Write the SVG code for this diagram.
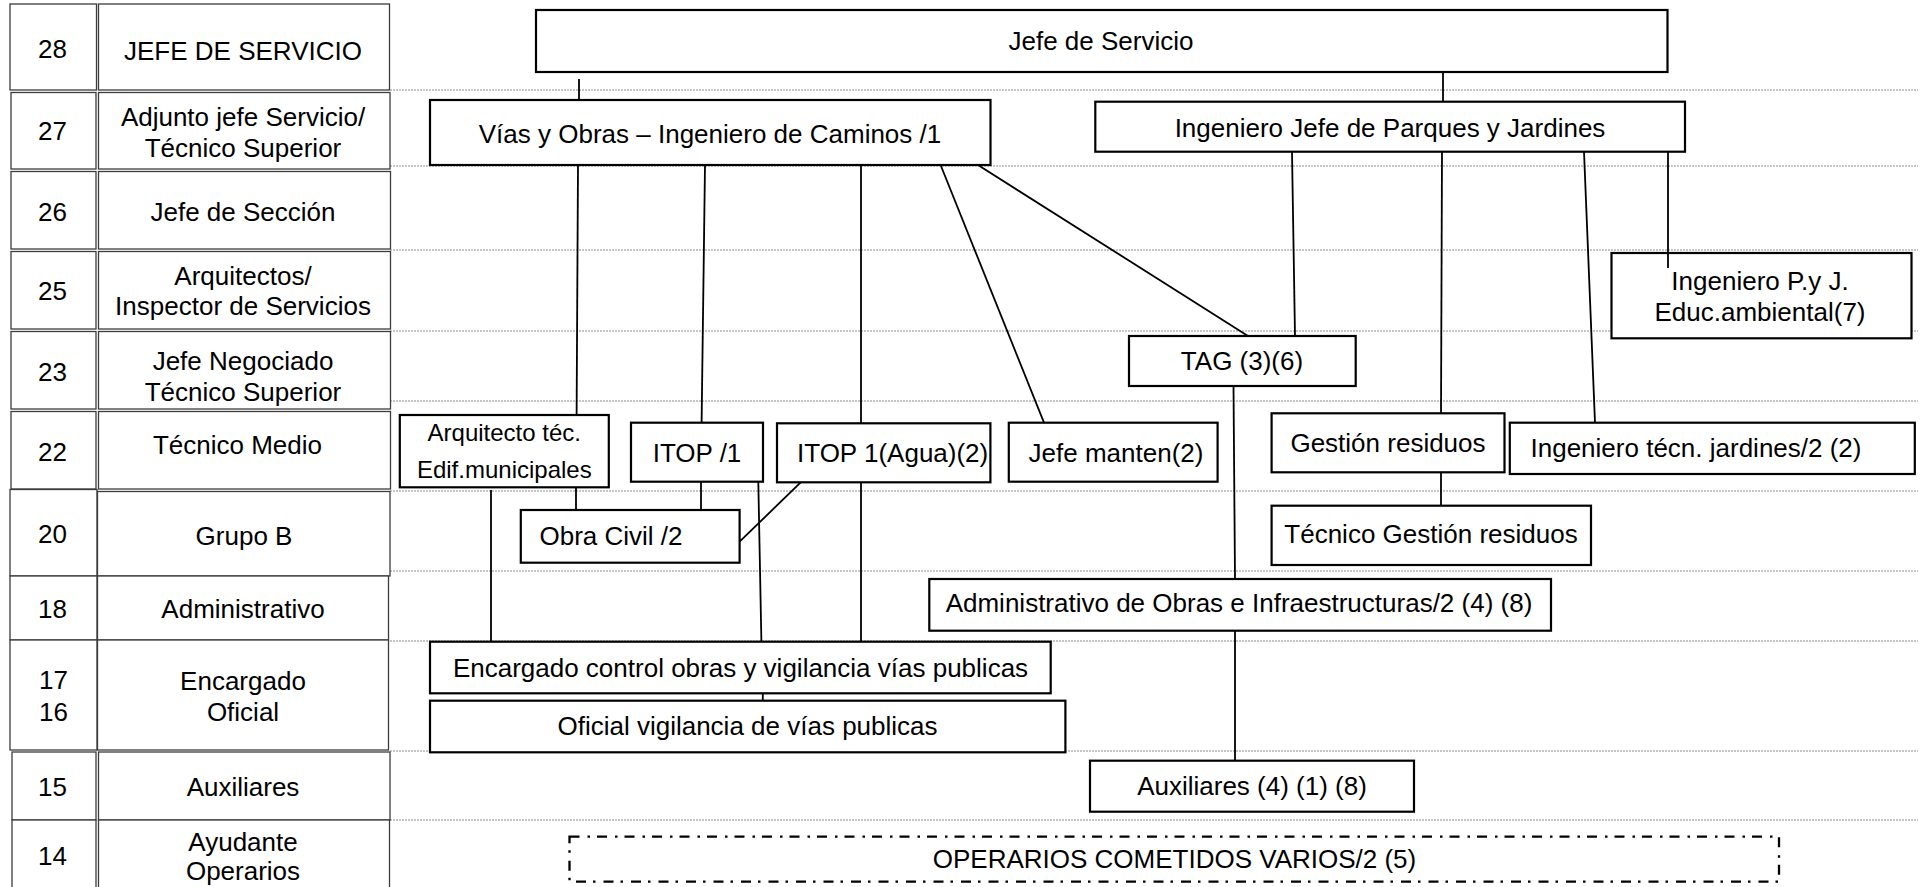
<svg xmlns="http://www.w3.org/2000/svg" width="1922" height="887" viewBox="0 0 1922 887">
<style>
  text { font-family: "Liberation Sans", Arial, sans-serif; font-size: 26px; fill: #000; }
  .c { text-anchor: middle; }
  .cell { fill: #fff; stroke: #3c3c3c; stroke-width: 1.3; }
  .grid line { stroke: #8c8c8c; stroke-width: 1; stroke-dasharray: 2 1; }
  .node rect { fill: #fff; stroke: #000; stroke-width: 2.2; }
  .conn line { stroke: #000; stroke-width: 1.8; }
  .dashdot { fill: none; stroke: #000; stroke-width: 2.3; stroke-dasharray: 10 8 2.5 7; }
</style>
<rect width="1922" height="887" fill="#fff"/>

<g class="grid" id="levels">
  <line x1="390" y1="90" x2="1918" y2="90"/>
  <line x1="390" y1="166" x2="1918" y2="166"/>
  <line x1="390" y1="250" x2="1918" y2="250"/>
  <line x1="390" y1="331" x2="1918" y2="331"/>
  <line x1="390" y1="401" x2="1918" y2="401"/>
  <line x1="390" y1="491" x2="1918" y2="491"/>
  <line x1="390" y1="571" x2="1918" y2="571"/>
  <line x1="390" y1="641" x2="1918" y2="641"/>
  <line x1="390" y1="751" x2="1918" y2="751"/>
  <line x1="390" y1="820" x2="1918" y2="820"/>
</g>

<g id="row-28">
  <rect class="cell" x="10" y="4" width="86.5" height="86"/>
  <rect class="cell" x="98.5" y="4" width="291" height="86"/>
  <text class="c" x="52.5" y="58">28</text>
  <text class="c" x="243" y="60">JEFE DE SERVICIO</text>
</g>
<g id="row-27">
  <rect class="cell" x="11" y="92.5" width="85" height="76.5"/>
  <rect class="cell" x="98.5" y="92.5" width="291.5" height="76.5"/>
  <text class="c" x="52.5" y="140">27</text>
  <text class="c" x="243" y="126">Adjunto jefe Servicio/</text>
  <text class="c" x="243" y="157">Técnico Superior</text>
</g>
<g id="row-26">
  <rect class="cell" x="11" y="171.5" width="85" height="77.5"/>
  <rect class="cell" x="98.5" y="171.5" width="292" height="77.5"/>
  <text class="c" x="52.5" y="221">26</text>
  <text class="c" x="243" y="221">Jefe de Sección</text>
</g>
<g id="row-25">
  <rect class="cell" x="11" y="251.5" width="85" height="77.5"/>
  <rect class="cell" x="98.5" y="251.5" width="292" height="77.5"/>
  <text class="c" x="52.5" y="300">25</text>
  <text class="c" x="243" y="285">Arquitectos/</text>
  <text class="c" x="243" y="315">Inspector de Servicios</text>
</g>
<g id="row-23">
  <rect class="cell" x="11" y="331.5" width="85" height="77.5"/>
  <rect class="cell" x="98.5" y="331.5" width="292" height="77.5"/>
  <text class="c" x="52.5" y="381">23</text>
  <text class="c" x="243" y="370">Jefe Negociado</text>
  <text class="c" x="243" y="401">Técnico Superior</text>
</g>
<g id="row-22">
  <rect class="cell" x="11" y="411.5" width="85" height="77.5"/>
  <rect class="cell" x="98.5" y="411.5" width="292" height="77.5"/>
  <text class="c" x="52.5" y="461">22</text>
  <text class="c" x="237.5" y="454">Técnico Medio</text>
</g>
<g id="row-20">
  <rect class="cell" x="10" y="489.5" width="87" height="86.5"/>
  <rect class="cell" x="97.5" y="491.5" width="292.5" height="84.5"/>
  <text class="c" x="52.5" y="543">20</text>
  <text class="c" x="244" y="545">Grupo B</text>
</g>
<g id="row-18">
  <rect class="cell" x="10" y="576" width="87" height="64"/>
  <rect class="cell" x="97.5" y="576" width="291" height="64"/>
  <text class="c" x="52.5" y="618">18</text>
  <text class="c" x="243" y="618">Administrativo</text>
</g>
<g id="row-17-16">
  <rect class="cell" x="10" y="640" width="87" height="110"/>
  <rect class="cell" x="97.5" y="640" width="291" height="110"/>
  <text class="c" x="53.5" y="689">17</text>
  <text class="c" x="53.5" y="721">16</text>
  <text class="c" x="243" y="690">Encargado</text>
  <text class="c" x="243" y="721">Oficial</text>
</g>
<g id="row-15">
  <rect class="cell" x="12" y="752" width="84" height="68"/>
  <rect class="cell" x="98.5" y="752" width="291.5" height="68"/>
  <text class="c" x="52.5" y="796">15</text>
  <text class="c" x="243" y="796">Auxiliares</text>
</g>
<g id="row-14">
  <rect class="cell" x="12" y="820" width="84" height="68"/>
  <rect class="cell" x="98.5" y="820" width="291" height="68"/>
  <text class="c" x="52.5" y="865">14</text>
  <text class="c" x="243" y="851">Ayudante</text>
  <text class="c" x="243" y="880">Operarios</text>
</g>

<g class="node" id="jefe-servicio">
  <rect x="536" y="10" width="1131.5" height="62"/>
  <text class="c" x="1101" y="50">Jefe de Servicio</text>
</g>
<g class="node" id="vias-obras">
  <rect x="430" y="100" width="560.5" height="65"/>
  <text class="c" x="710" y="143">Vías y Obras – Ingeniero de Caminos /1</text>
</g>
<g class="node" id="parques-jardines">
  <rect x="1095.3" y="101.7" width="589.7" height="50"/>
  <text class="c" x="1390" y="137">Ingeniero Jefe de Parques y Jardines</text>
</g>
<g class="node" id="ing-pyj">
  <rect x="1611.5" y="253" width="300" height="85.3"/>
  <text class="c" x="1760" y="290">Ingeniero P.y J.</text>
  <text class="c" x="1760" y="321">Educ.ambiental(7)</text>
</g>
<g class="node" id="tag">
  <rect x="1129" y="336" width="226.7" height="50"/>
  <text class="c" x="1242" y="370">TAG (3)(6)</text>
</g>
<g class="node" id="arquitecto-tec">
  <rect x="399.8" y="415" width="209" height="72.3"/>
  <text class="c" x="504.3" y="441" style="font-size:24px">Arquitecto téc.</text>
  <text class="c" x="504.3" y="478" style="font-size:24px">Edif.municipales</text>
</g>
<g class="node" id="itop-1">
  <rect x="631" y="422.7" width="132" height="59"/>
  <text class="c" x="697" y="462">ITOP /1</text>
</g>
<g class="node" id="itop-agua">
  <rect x="777" y="423.3" width="213.4" height="59"/>
  <text x="797" y="462">ITOP 1(Agua)(2)</text>
</g>
<g class="node" id="jefe-manten">
  <rect x="1008.8" y="422.7" width="208.8" height="59"/>
  <text class="c" x="1116" y="462">Jefe manten(2)</text>
</g>
<g class="node" id="gestion-residuos">
  <rect x="1271.6" y="413.3" width="232.9" height="59"/>
  <text class="c" x="1388" y="452">Gestión residuos</text>
</g>
<g class="node" id="ing-tecn-jardines">
  <rect x="1509.8" y="422.7" width="405" height="51.3"/>
  <text class="c" x="1696" y="457">Ingeniero técn. jardines/2 (2)</text>
</g>
<g class="node" id="obra-civil">
  <rect x="520.8" y="510" width="218.8" height="52.7"/>
  <text x="539.5" y="545">Obra Civil /2</text>
</g>
<g class="node" id="tecnico-gestion">
  <rect x="1271.6" y="505.7" width="319.4" height="59.3"/>
  <text class="c" x="1431" y="543">Técnico Gestión residuos</text>
</g>
<g class="node" id="administrativo-obras">
  <rect x="929.3" y="579" width="621.7" height="51.7"/>
  <text class="c" x="1239" y="612">Administrativo de Obras e Infraestructuras/2 (4) (8)</text>
</g>
<g class="node" id="encargado-control">
  <rect x="430" y="641.7" width="620.7" height="51.6"/>
  <text class="c" x="740.5" y="677">Encargado control obras y vigilancia vías publicas</text>
</g>
<g class="node" id="oficial-vigilancia">
  <rect x="430" y="700.7" width="635.4" height="51.6"/>
  <text class="c" x="747.5" y="735">Oficial vigilancia de vías publicas</text>
</g>
<g class="node" id="auxiliares">
  <rect x="1090" y="760.7" width="324" height="51"/>
  <text class="c" x="1252" y="795">Auxiliares (4) (1) (8)</text>
</g>
<g id="operarios">
  <rect class="dashdot" x="569.5" y="836.7" width="1209.5" height="45"/>
  <text class="c" x="1174.5" y="868">OPERARIOS COMETIDOS VARIOS/2 (5)</text>
</g>

<g class="conn" id="connectors">
  <line x1="579" y1="79" x2="579" y2="100"/>
  <line x1="1443" y1="72" x2="1443" y2="101.7"/>
  <line x1="578" y1="165" x2="576.6" y2="415"/>
  <line x1="705" y1="165" x2="701.6" y2="422.7"/>
  <line x1="861" y1="165" x2="861" y2="423.3"/>
  <line x1="941" y1="166" x2="1044" y2="422.7"/>
  <line x1="978" y1="165" x2="1248" y2="336"/>
  <line x1="1292" y1="151.7" x2="1295" y2="336"/>
  <line x1="1442" y1="151.7" x2="1441" y2="413.3"/>
  <line x1="1584" y1="151.7" x2="1595" y2="422.7"/>
  <line x1="1668" y1="151.7" x2="1668" y2="268"/>
  <line x1="576" y1="487.3" x2="576" y2="510"/>
  <line x1="701" y1="481.7" x2="701" y2="510"/>
  <line x1="800.7" y1="482.3" x2="739.6" y2="541.7"/>
  <line x1="491" y1="490" x2="491" y2="641.7"/>
  <line x1="758.3" y1="481.7" x2="761.4" y2="641.7"/>
  <line x1="861" y1="482.3" x2="861" y2="641.7"/>
  <line x1="1233.5" y1="386" x2="1235" y2="579"/>
  <line x1="1441" y1="472.3" x2="1441" y2="505.7"/>
  <line x1="762.8" y1="693.3" x2="762.8" y2="700.7"/>
  <line x1="1235" y1="630.7" x2="1235" y2="760.7"/>
</g>
</svg>
